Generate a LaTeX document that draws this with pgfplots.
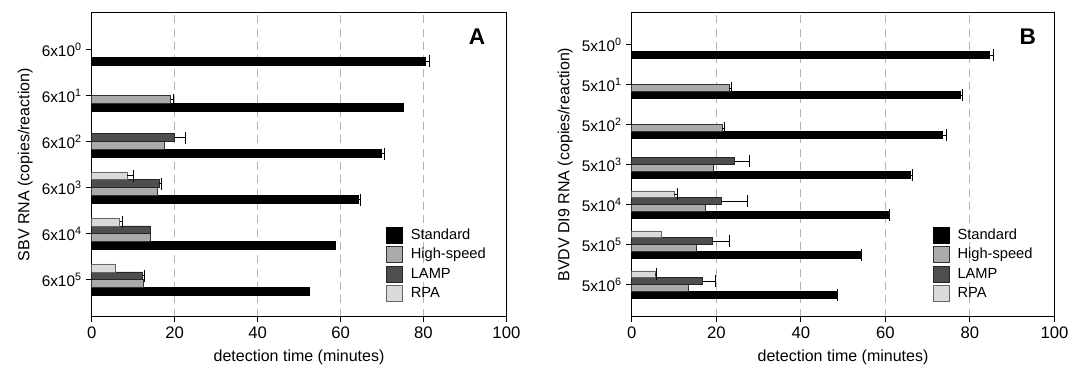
\documentclass[border=0pt]{standalone}
\usepackage{fontspec}
\setmainfont{Liberation Sans}
\usepackage{pgfplots}
\pgfplotsset{compat=1.18}
\definecolor{hsfill}{HTML}{AAAAAA}
\definecolor{lampfill}{HTML}{4E4E4E}
\definecolor{rpafill}{HTML}{DADADA}
\definecolor{gridc}{HTML}{B4B4B4}
\pgfplotsset{
  panel/.style={
    anchor=south west, scale only axis,
    xmin=0, xmax=100, ymin=-0.8,
    xtick={0,20,40,60,80,100},
    xtick pos=left, ytick pos=left,
    tick align=outside, major tick length=4pt,
    tick style={black, line width=0.8pt},
    axis line style={black, line width=1pt},
    xmajorgrids, grid style={gridc, dash pattern=on 6pt off 4pt, line width=0.8pt},
    /pgf/number format/assume math mode=true,
    xticklabel style={font=\fontsize{12.5}{14}\selectfont},
    yticklabel style={font=\fontsize{11.5}{13}\selectfont},
    label style={font=\fontsize{12}{14}\selectfont},
    xlabel style={yshift=-2pt},
    xlabel={detection time (minutes)},
    legend style={draw=none, fill=none, inner sep=0pt, anchor=north west,
      font=\fontsize{11}{13}\selectfont, row sep=2pt,
      nodes={inner ysep=0.5pt, inner xsep=0pt, text height=8.5pt, text depth=2.5pt}},
    legend cell align=left,
    legend image code/.code={\draw[#1, line width=0.6pt] (0pt,-6pt) rectangle (12pt,6pt); \path[draw=none,fill=none] (0pt,0pt) -- (18pt,0pt);},
    bar width=0.172,
  },
  stdbar/.style={xbar, bar shift=-0.258, fill=black, draw=black, line width=0.5pt},
  hsbar/.style={xbar, bar shift=-0.086, fill=hsfill, draw=black!80, line width=0.5pt},
  lampbar/.style={xbar, bar shift=0.086, fill=lampfill, draw=black!85, line width=0.5pt},
  rpabar/.style={xbar, bar shift=0.258, fill=rpafill, draw=black!60, line width=0.5pt},
  errs/.style={draw=none, mark=none, forget plot,
    error bars/.cd, x dir=plus, x explicit, error mark=|,
    error bar style={draw=black, solid, line width=0.7pt},
    error mark options={draw=black, solid, mark size=4.5pt, line width=0.7pt}},
}
\begin{document}
\begin{tikzpicture}
\path[use as bounding box] (0,0) rectangle (801pt,280.5pt);
% Panel A
\begin{axis}[panel, at={(68.8pt,43pt)}, width=311pt, height=228pt,
  ymax=5.8, ytick={0,1,2,3,4,5},
  yticklabels={6x10\textsuperscript{5},6x10\textsuperscript{4},6x10\textsuperscript{3},6x10\textsuperscript{2},6x10\textsuperscript{1},6x10\textsuperscript{0}},
  ylabel={SBV RNA (copies/reaction)},
  legend style={at={(rel axis cs:0.71,0.296)}},
]
\addplot[stdbar] coordinates {(80.5,5) (75.2,4) (69.9,3) (64.4,2) (58.8,1) (52.5,0)};
\addplot[hsbar] coordinates {(19.0,4) (17.4,3) (15.9,2) (14.2,1) (12.5,0)};
\addplot[lampbar] coordinates {(19.9,3) (16.3,2) (14.1,1) (12.3,0)};
\addplot[rpabar] coordinates {(8.6,2) (6.7,1) (5.7,0)};
\legend{Standard,High-speed,LAMP,RPA}
% error bars (y = category + bar shift)
\addplot[errs] coordinates {(80.5,4.742) +- (1.0,0) (69.9,2.742) +- (0.6,0) (64.4,1.742) +- (0.3,0)};
\addplot[errs] coordinates {(19.0,3.914) +- (0.6,0)};
\addplot[errs] coordinates {(19.9,3.086) +- (2.8,0) (16.3,2.086) +- (0.4,0) (12.3,0.086) +- (0.3,0)};
\addplot[errs] coordinates {(8.6,2.258) +- (1.4,0) (6.7,1.258) +- (0.6,0)};
\node[font=\bfseries\fontsize{17}{20}\selectfont] at (rel axis cs:0.929,0.92) {A};
\end{axis}
% Panel B
\begin{axis}[panel, at={(473.8pt,43pt)}, width=317pt, height=228pt,
  ymax=6.8, ytick={0,1,2,3,4,5,6},
  yticklabels={5x10\textsuperscript{6},5x10\textsuperscript{5},5x10\textsuperscript{4},5x10\textsuperscript{3},5x10\textsuperscript{2},5x10\textsuperscript{1},5x10\textsuperscript{0}},
  ylabel={BVDV DI9 RNA (copies/reaction)},
  legend style={at={(rel axis cs:0.7125,0.296)}},
]
\addplot[stdbar] coordinates {(84.5,6) (77.7,5) (73.5,4) (66.0,3) (60.7,2) (54.1,1) (48.4,0)};
\addplot[hsbar] coordinates {(23.0,5) (21.4,4) (19.4,3) (17.3,2) (15.3,1) (13.5,0)};
\addplot[lampbar] coordinates {(24.2,3) (21.2,2) (19.1,1) (16.8,0)};
\addplot[rpabar] coordinates {(10.1,2) (6.9,1) (5.6,0)};
\legend{Standard,High-speed,LAMP,RPA}
\addplot[errs] coordinates {(84.5,5.742) +- (1.2,0) (77.7,4.742) +- (0.6,0) (73.5,3.742) +- (1.0,0) (66.0,2.742) +- (0.3,0) (60.7,1.742) +- (0.3,0) (54.1,0.742) +- (0.3,0) (48.4,-0.258) +- (0.2,0)};
\addplot[errs] coordinates {(23.0,4.914) +- (0.5,0) (21.4,3.914) +- (0.5,0)};
\addplot[errs] coordinates {(24.2,3.086) +- (3.6,0) (21.2,2.086) +- (6.2,0) (19.1,1.086) +- (4.0,0) (16.8,0.086) +- (3.0,0)};
\addplot[errs] coordinates {(10.1,2.258) +- (0.8,0) (5.6,0.258) +- (0.2,0)};
\node[font=\bfseries\fontsize{17}{20}\selectfont] at (rel axis cs:0.937,0.92) {B};
\end{axis}
\end{tikzpicture}
\end{document}
